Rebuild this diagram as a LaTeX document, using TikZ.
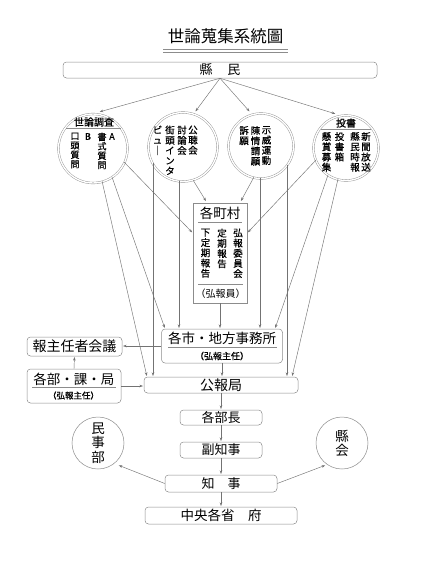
\documentclass[tikz,border=0pt]{standalone}
\usepackage{fontspec}
\newfontfamily\jp{Noto Sans CJK JP}
\newfontfamily\jpb[FakeBold=0.7]{Noto Sans CJK JP}
\usetikzlibrary{arrows.meta}
\begin{document}
\begin{tikzpicture}[x=1pt,y=-1pt,
  ln/.style={draw=black!55, line width=0.45pt},
  arr/.style={ln, -{Stealth[length=3.6pt,width=2.6pt]}, shorten >=0.8pt},
  bx/.style={draw=black!45, line width=0.5pt, rounded corners=3.5pt, inner sep=0, text=black},
  dcirc/.style={circle, draw=black!45, line width=0.4pt, double=white, double distance=1.4pt, inner sep=0},
  t/.style={inner sep=0, text=black, font=\jp\fontsize{#1}{#1}\selectfont},
  t/.default=13,
  tb/.style={inner sep=0, text=black, font=\jpb\fontsize{#1}{#1}\selectfont},
  vc/.style={anchor=north, inner sep=0, align=center, text=black, font=\jpb\fontsize{9.5}{10.2}\selectfont},
  vcs/.style={anchor=north, inner sep=0, align=center, text=black, font=\jpb\fontsize{9}{9.4}\selectfont}]
\useasboundingbox[fill=white] (0,0) rectangle (426,571);

% title
\node[t=16.5] (title) at (225.5,36) {世論蒐集系統圖};
\coordinate (ul1) at (163,49.5); \coordinate (ur1) at (288,49.5);
\coordinate (ul2) at (163,51.8); \coordinate (ur2) at (288,51.8);
\draw[ln, draw=black!45] (ul1) -- (ur1);
\draw[ln, draw=black!45] (ul2) -- (ur2);

% kenmin
\node[bx, minimum width=314pt, minimum height=16pt, font=\jp\fontsize{13}{13}\selectfont] (kenmin) at (220,70) {縣\hspace{15pt}民};

% circles
\node[dcirc, minimum size=69pt] (c1) at (93,148.5) {};
\node[dcirc, minimum size=69pt] (c2) at (183,147) {};
\node[dcirc, minimum size=65pt] (c3) at (261,146) {};
\node[dcirc, minimum size=65pt] (c4) at (346,148) {};

% circle 1 text
\node[tb=10] (c1t) at (94,122) {世論調査};
\coordinate (c1l) at (66,128.5); \coordinate (c1r) at (121,128.5);
\draw[ln, draw=black!45] (c1l) -- (c1r);
\node[vcs] (c1a) at (75,132.5) {口\\頭\\質\\問};
\node[vcs] (c1b) at (88,133) {B};
\node[vcs] (c1c) at (102,132.5) {書\\式\\質\\問};
\node[vcs] (c1d) at (112,133) {A};

% circle 2 text
\node[vc] (c2a) at (193,125.5) {公\\聴\\会};
\node[vc] (c2b) at (182,125.5) {討\\論\\会};
\node[vc] (c2c) at (170,125.5) {街\\頭\\イ\\ン\\タ};
\node[vc] (c2d) at (157.5,125.5) {ビ\\ュ\\｜};

% circle 3 text
\node[vc] (c3a) at (266.5,126) {示\\威\\運\\動};
\node[vc] (c3b) at (255.5,126) {陳\\情\\請\\願};
\node[vc] (c3c) at (244,126) {訴\\願};

% circle 4 text
\node[tb=10] (c4t) at (346,123) {投書};
\coordinate (c4l) at (321,129); \coordinate (c4r) at (371,129);
\draw[ln, draw=black!45] (c4l) -- (c4r);
\node[vc] (c4a) at (366,132) {新\\聞\\放\\送};
\node[vc] (c4b) at (355,132) {縣\\民\\時\\報};
\node[vc] (c4c) at (339.5,132) {投\\書\\箱};
\node[vc] (c4d) at (326.5,132) {懸\\賞\\募\\集};

% kakuchouson
\node[draw=black!45, line width=0.5pt, inner sep=0, minimum width=54pt, minimum height=100pt] (chouson) at (220,253) {};
\node[t=13.5] (chot) at (220,213.5) {各町村};
\coordinate (cl1) at (198,222); \coordinate (cr1) at (242,222);
\coordinate (cl2) at (198,284); \coordinate (cr2) at (243,284);
\draw[ln, draw=black!45] (cl1) -- (cr1);
\draw[ln, draw=black!45] (cl2) -- (cr2);
\node[vc] (cha) at (238,228.5) {弘\\報\\委\\員\\会};
\node[vc] (chb) at (222,228.5) {定\\期\\報\\告};
\node[vc] (chc) at (205.5,228.5) {下\\定\\期\\報\\告};
\node[t=10] (chd) at (220.5,293.5) {（弘報員）};

% shi
\node[bx, minimum width=121pt, minimum height=34pt] (shi) at (222,346) {};
\node[t=13.5] (shit) at (222,338.5) {各市・地方事務所};
\coordinate (sl) at (168,347); \coordinate (sr) at (277,347);
\draw[ln, draw=black!45] (sl) -- (sr);
\node[tb=9] (shis) at (222,356) {（弘報主任）};

% hou
\node[bx, minimum width=95pt, minimum height=19pt, font=\jp\fontsize{14}{14}\selectfont] (hou) at (74.5,346.5) {報主任者会議};

% kakubu
\node[bx, minimum width=94pt, minimum height=34pt] (kakubu) at (74,386) {};
\node[t=13.5] (kbt) at (74,379) {各部・課・局};
\coordinate (kl) at (32,387.5); \coordinate (kr) at (116,387.5);
\draw[ln, draw=black!45] (kl) -- (kr);
\node[tb=8.5] (kbs) at (73.5,395.5) {（弘報主任）};

% kouhou and chain
\node[bx, minimum width=154pt, minimum height=16pt, font=\jp\fontsize{14}{14}\selectfont] (kouhou) at (221,385) {公報局};
\node[bx, minimum width=82pt, minimum height=15pt, font=\jp\fontsize{13}{13}\selectfont] (bucho) at (221,417.5) {各部長};
\node[bx, minimum width=82pt, minimum height=16pt, font=\jp\fontsize{13}{13}\selectfont] (fuku) at (221,450) {副知事};
\node[bx, minimum width=112pt, minimum height=17pt, font=\jp\fontsize{13}{13}\selectfont] (chiji) at (221,483.5) {知　事};
\node[bx, minimum width=152pt, minimum height=17pt, font=\jp\fontsize{13.5}{13.5}\selectfont] (chuo) at (221,515.5) {中央各省　府};

% side circles
\node[circle, draw=black!45, line width=0.5pt, minimum size=52pt, inner sep=0, align=center, text=black, font=\jp\fontsize{13.5}{14.5}\selectfont] (minji) at (98,443) {民\\事\\部};
\node[circle, draw=black!45, line width=0.5pt, minimum size=52pt, inner sep=0, align=center, text=black, font=\jp\fontsize{13.5}{14}\selectfont] (kenkai) at (342,443) {縣\\会};

% connectors from kenmin
\coordinate (k1) at (99,112); \coordinate (k2) at (195,112);
\coordinate (k3) at (250,112); \coordinate (k4) at (336,114);
\draw[arr] (kenmin.south) -- (k1);
\draw[arr] (kenmin.south) -- (k2);
\draw[arr] (kenmin.south) -- (k3);
\draw[arr] (kenmin.south) -- (k4);

% helper coordinates
\coordinate (y233) at (0,233);
\coordinate (x165) at (165,0); \coordinate (x147) at (147,0);
\coordinate (x207) at (207,0); \coordinate (x240) at (240,0);
\coordinate (x275) at (275,0); \coordinate (x292) at (292,0);

% circle 1
\coordinate (s1a) at (124,162); \coordinate (s1b) at (112,177); \coordinate (s1c) at (102,181);
\draw[arr] (s1a) -- (chouson.west |- y233);
\draw[arr] (s1b) -- (x165 |- shi.north);
\draw[arr] (s1c) -- (x147 |- kouhou.north);

% circle 2
\coordinate (s2a) at (153,163); \coordinate (s2b) at (179,181); \coordinate (s2c) at (193,180);
\draw[arr] (s2a) -- (s2a |- kouhou.north);
\draw[arr] (s2b) -- (s2b |- shi.north);
\draw[arr, shorten >=2pt] (s2c) -- (x207 |- chouson.north);

% circle 3
\coordinate (s3a) at (254,177); \coordinate (s3b) at (260,178); \coordinate (s3c) at (287,164.7);
\draw[arr, shorten >=2pt] (s3a) -- (x240 |- chouson.north);
\draw[arr] (s3b) -- (s3b |- shi.north);
\draw[arr] (s3c) -- (s3c |- kouhou.north);

% circle 4
\coordinate (s4a) at (316,160); \coordinate (s4b) at (328,175); \coordinate (s4c) at (338,179);
\draw[arr] (s4a) -- (chouson.east |- y233);
\draw[arr] (s4b) -- (x275 |- shi.north);
\draw[arr] (s4c) -- (x292 |- kouhou.north);

% boxes
\draw[arr] (chouson.south) -- (chouson.south |- shi.north);
\draw[arr] (shi.south) -- (shi.south |- kouhou.north);
\draw[arr] (shi.west) -- (hou.east |- shi.west);
\draw[arr] (kakubu.north) -- (hou.south);
\draw[arr] (kakubu.east) -- (kouhou.west |- kakubu.east);
\draw[arr] (kouhou.south) -- (bucho.north);
\draw[arr] (bucho.south) -- (fuku.north);
\draw[arr] (fuku.south) -- (chiji.north);
\draw[arr] (chiji.south) -- (chuo.north);
\coordinate (m1) at (118,465); \coordinate (m2) at (326,465);
\draw[arr] (chiji.west) -- (m1);
\draw[arr] (chiji.east) -- (m2);
\end{tikzpicture}
\end{document}
